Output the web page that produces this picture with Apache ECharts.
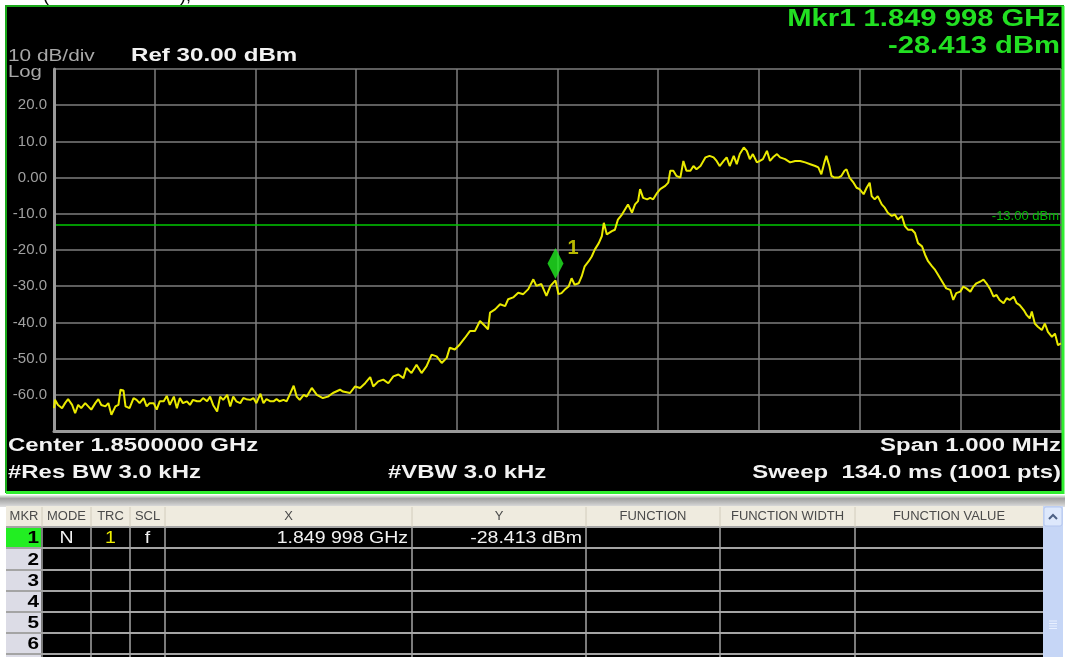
<!DOCTYPE html>
<html><head><meta charset="utf-8">
<script src="https://cdn.jsdelivr.net/npm/echarts@6/dist/echarts.min.js"></script>
<style>html,body{margin:0;padding:0;background:#fff;}#chart{width:1065px;height:657px;}</style>
</head><body><div id="chart"></div>
<script>
// ---- data (trace point index 0..1000 across 1.8495–1.8505 GHz, level in dBm) ----
const traceIdx = [
  0,1,4,8,11,14,18,21,24,27,31,34,37,41,44,47,51,54,57,61,64,66,69,71,75,79,82,85,89,92,95,99,102,105,109,112,115,119,122,125,128,132,135,138,142,145,148,152,155,158,162,165,168,172,175,178,181,185,188,191,195,198,201,205,208,211,215,218,221,224,228,231,234,238,241,244,248,
  251,256,261,267,272,277,284,287,294,299,304,309,314,317,322,327,332,337,342,347,350,355,360,365,370,375,380,385,390,393,398,403,408,413,418,423,428,431,433,438,443,448,451,456,461,466,471,476,479,484,489,493,498,501,
  504,507,511,514,517,521,524,527,531,534,537,541,544,546,549,554,557,560,564,567,570,574,577,580,582,585,589,592,595,599,602,607,610,612,615,618,622,625,628,632,635,638,642,647,651,655,658,661,665,668,671,675,678,681,685,688,691,694,698,701,704,708,711,714,718,721,726,731,736,
  741,746,751,756,759,762,765,767,770,772,775,779,782,785,787,790,794,797,800,804,807,810,812,815,818,822,825,828,832,835,838,842,845,848,852,855,858,862,865,868,872,875,877,880,883,886,890,893,896,900,903,906,910,913,916,920,923,926,930,933,936,939,943,946,949,953,956,959,963,966,969,971,974,977,981,984,987,991,994,997,1000
];
const traceDbm = [
  -63.7,-61.4,-62.8,-63.7,-62.3,-61.2,-62.8,-65.1,-62.8,-63.7,-62.3,-63.2,-64.1,-62.3,-61.2,-62.8,-63.2,-62.3,-65.5,-63.2,-62.8,-58.6,-58.8,-63.2,-63.7,-60.9,-61.4,-62.3,-60.9,-63.2,-62.3,-62.3,-64.1,-61.8,-61.8,-60.3,-62.8,-60.5,-63.7,-60.9,-62.3,-61.8,-62.8,-61.4,-61.8,-61.8,-60.9,-61.8,-60.5,-62.8,-64.6,-60.5,-61.4,-60.0,-63.2,-60.5,-61.8,-62.3,-60.9,-61.2,-61.4,-60.9,-62.3,-59.7,-62.3,-61.2,-61.8,-61.8,-61.2,-61.8,-61.4,-61.8,-60.0,-57.5,-60.5,-61.4,-60.0,
  -60.5,-58.1,-60.0,-60.9,-60.5,-59.5,-58.6,-59.1,-59.5,-57.7,-58.1,-56.8,-55.1,-57.7,-56.3,-55.8,-56.8,-54.9,-54.4,-55.4,-52.6,-54.0,-51.7,-54.0,-52.1,-48.9,-49.4,-51.2,-49.8,-47.0,-47.5,-46.1,-44.3,-42.4,-42.4,-39.6,-41.0,-41.9,-37.3,-36.4,-35.0,-35.5,-33.6,-33.1,-31.8,-32.2,-30.8,-28.1,-29.9,-29.4,-32.7,-29.9,-28.4,-32.2,
  -31.9,-31.0,-30.1,-27.8,-29.6,-29.2,-27.3,-24.5,-23.1,-21.8,-19.9,-18.1,-16.2,-12.5,-15.7,-14.8,-14.4,-11.6,-10.2,-8.8,-7.4,-9.7,-7.4,-6.5,-3.2,-5.6,-6.0,-5.6,-6.0,-4.2,-3.2,-2.3,-1.4,1.9,1.9,0.5,0.0,4.6,1.9,1.9,3.2,2.3,3.2,5.6,6.0,5.6,4.6,3.2,4.6,5.6,3.2,6.0,3.7,6.5,8.3,7.4,5.1,6.5,4.2,4.6,5.1,7.4,4.6,5.6,6.5,5.6,5.1,4.2,4.6,
  4.6,4.2,3.7,3.2,2.8,0.9,4.2,6.0,3.2,0.5,0.0,0.0,0.5,1.9,2.3,0.0,-1.4,-2.8,-3.2,-4.6,-2.8,-1.4,-5.1,-6.0,-5.1,-7.4,-8.3,-9.7,-10.6,-10.2,-11.6,-10.6,-13.4,-14.4,-14.4,-15.3,-18.1,-19.0,-21.3,-23.1,-24.5,-25.5,-26.4,-27.8,-29.2,-30.6,-31.0,-33.8,-31.9,-31.5,-30.1,-30.6,-31.5,-30.1,-29.2,-28.7,-28.2,-29.2,-31.0,-32.9,-32.4,-33.8,-34.7,-33.3,-33.8,-32.9,-34.7,-35.2,-36.6,-38.0,-38.9,-37.0,-40.3,-41.2,-42.1,-40.3,-42.6,-44.0,-43.1,-46.3,-45.8
];
const markerIdx = 498;          // 1.849 998 GHz
const markerDbm = -28.413;
const limitDbm = -13;
const limitLabel = '-13.00 dBm';
const yTickValues = [20, 10, 0, -10, -20, -30, -40, -50, -60];
const yTickLabels = ['20.0', '10.0', '0.00', '-10.0', '-20.0', '-30.0', '-40.0', '-50.0', '-60.0'];
const scaleText = ['10 dB/div', 'Log'];
const refText = 'Ref 30.00 dBm';
const mkrReadout = ['Mkr1 1.849 998 GHz', '-28.413 dBm'];
const footerLeft = ['Center 1.8500000 GHz', '#Res BW 3.0 kHz'];
const footerMid = '#VBW 3.0 kHz';
const footerRight = ['Span 1.000 MHz', 'Sweep  134.0 ms (1001 pts)'];
const tableColumns = ['MKR', 'MODE', 'TRC', 'SCL', 'X', 'Y', 'FUNCTION', 'FUNCTION WIDTH', 'FUNCTION VALUE'];
const tableRows = [
  ['1', 'N', '1', 'f', '1.849 998 GHz', '-28.413 dBm', '', '', ''],
  ['2', '', '', '', '', '', '', '', ''],
  ['3', '', '', '', '', '', '', '', ''],
  ['4', '', '', '', '', '', '', '', ''],
  ['5', '', '', '', '', '', '', '', ''],
  ['6', '', '', '', '', '', '', '', '']
];

// ---- layout ----
const SX = 1.27;
const FSX = 1.33;
const FF = '"Liberation Sans", Arial, sans-serif';
const colEdges = [6, 42, 91, 130, 165, 412, 586, 720, 855, 1043];
const rowEdges = [527, 548, 570, 591, 612, 633, 654];

function txt(text, x, y, font, fill, align, sx, z) {
  return { type: 'text', x: x, y: y, scaleX: sx == null ? SX : sx, z: z || 30,
    style: { text: text, font: font, fill: fill, textAlign: align || 'left', textVerticalAlign: 'middle' } };
}
const G = [];
// page header fragment
G.push({ type: 'text', x: 43, y: 5, z: 30, style: { text: '(', font: '18px ' + FF, fill: '#000', textVerticalAlign: 'bottom' } });
G.push({ type: 'text', x: 180, y: 5, z: 30, style: { text: '),', font: '18px ' + FF, fill: '#000', textVerticalAlign: 'bottom' } });
// instrument panel
G.push({ type: 'rect', z: -10, shape: { x: 6, y: 6, width: 1057, height: 486 }, style: { fill: '#000', stroke: '#1aa81a', lineWidth: 2 } });
G.push({ type: 'line', z: 40, shape: { x1: 1063, y1: 6, x2: 1063, y2: 494 }, style: { stroke: '#30ee30', lineWidth: 3 } });
G.push({ type: 'line', z: 40, shape: { x1: 6, y1: 492.5, x2: 1064, y2: 492.5 }, style: { stroke: '#30ee30', lineWidth: 3 } });
G.push(txt(scaleText[0], 8, 57, '16px ' + FF, '#a8a8a8', 'left', 1.3));
G.push(txt(scaleText[1], 8, 73, '16px ' + FF, '#a8a8a8'));
G.push(txt(refText, 131, 56, 'bold 19px ' + FF, '#f2f2f2'));
G.push(txt(mkrReadout[0], 1060, 20, 'bold 23px ' + FF, '#22e022', 'right'));
G.push(txt(mkrReadout[1], 1060, 47, 'bold 23px ' + FF, '#22e022', 'right'));
G.push(txt(footerLeft[0], 8, 446, 'bold 18px ' + FF, '#f2f2f2', 'left', FSX));
G.push(txt(footerLeft[1], 8, 473, 'bold 18px ' + FF, '#f2f2f2', 'left', FSX));
G.push(txt(footerMid, 388, 473, 'bold 18px ' + FF, '#f2f2f2', 'left', FSX));
G.push(txt(footerRight[0], 1061, 446, 'bold 18px ' + FF, '#f2f2f2', 'right', FSX));
G.push(txt(footerRight[1], 1061, 473, 'bold 18px ' + FF, '#f2f2f2', 'right', FSX));
// table band
G.push({ type: 'rect', z: -10, shape: { x: 0, y: 495, width: 1065, height: 12 },
  style: { fill: new echarts.graphic.LinearGradient(0, 0, 0, 1, [
    { offset: 0, color: '#eef8ee' }, { offset: 0.3, color: '#a0a0a0' }, { offset: 0.75, color: '#c8c8c8' }, { offset: 1, color: '#e0e0e0' }]) } });
G.push({ type: 'rect', z: -10, shape: { x: 6, y: 506, width: 1037, height: 21 }, style: { fill: '#efebdf' } });
G.push({ type: 'rect', z: -10, shape: { x: 6, y: 527, width: 1037, height: 130 }, style: { fill: '#000' } });
for (let r = 0; r < tableRows.length; r++) {
  G.push({ type: 'rect', z: -9, shape: { x: 6, y: rowEdges[r] + 1, width: 35, height: rowEdges[r + 1] - rowEdges[r] - 1 },
    style: { fill: r === 0 ? '#22ee22' : '#dcdce6' } });
}
G.push({ type: 'rect', z: -9, shape: { x: 6, y: 655, width: 35, height: 2 }, style: { fill: '#dcdce6' } });
for (const y of rowEdges) G.push({ type: 'line', z: -8, shape: { x1: 6, y1: y, x2: 1043, y2: y }, style: { stroke: '#a4a4a4', lineWidth: 2 } });
for (let c = 1; c < colEdges.length - 1; c++) {
  G.push({ type: 'line', z: -8, shape: { x1: colEdges[c], y1: 527, x2: colEdges[c], y2: 657 }, style: { stroke: '#a4a4a4', lineWidth: 1.5 } });
  G.push({ type: 'line', z: -8, shape: { x1: colEdges[c], y1: 507, x2: colEdges[c], y2: 527 }, style: { stroke: '#d2ccbc', lineWidth: 1 } });
}
for (let c = 0; c < tableColumns.length; c++) {
  const cx = (colEdges[c] + colEdges[c + 1]) / 2;
  G.push(txt(tableColumns[c], cx, 517, '12px ' + FF, '#4a4a4a', 'center', 1.08));
}
const colAlign = ['right', 'center', 'center', 'center', 'right', 'right', 'right', 'right', 'right'];
for (let r = 0; r < tableRows.length; r++) {
  const cy = (rowEdges[r] + rowEdges[r + 1]) / 2 + 1;
  for (let c = 0; c < tableRows[r].length; c++) {
    const v = tableRows[r][c];
    if (!v) continue;
    let x = colAlign[c] === 'center' ? (colEdges[c] + colEdges[c + 1]) / 2 : colEdges[c + 1] - 4;
    let font = '16px ' + FF, fill = '#f2f2f2';
    if (c === 0) { font = 'bold 17px ' + FF; fill = '#000'; x = colEdges[1] - 3; }
    if (c === 2) fill = '#f0f000';
    G.push(txt(v, x, cy, font, fill, colAlign[c], 1.22));
  }
}
// scrollbar
G.push({ type: 'rect', z: -9, shape: { x: 1043, y: 506, width: 20, height: 151 }, style: { fill: '#c6d6f6' } });
G.push({ type: 'rect', z: -8, shape: { x: 1044, y: 507, width: 18, height: 19, r: 2 }, style: { fill: '#dde8fc', stroke: '#b4c6ee', lineWidth: 1 } });
G.push({ type: 'polyline', z: -7, shape: { points: [[1049, 519], [1053, 515], [1057, 519]] }, style: { stroke: '#4d6185', lineWidth: 2, fill: 'none' } });
for (let k = 0; k < 4; k++) G.push({ type: 'line', z: -7, shape: { x1: 1049, y1: 621 + k * 2.5, x2: 1057, y2: 621 + k * 2.5 }, style: { stroke: '#e8f0ff', lineWidth: 1 } });

const traceData = traceIdx.map((x, i) => [x, traceDbm[i]]);

const chart = echarts.init(document.getElementById('chart'), null, { renderer: 'canvas' });
chart.setOption({
  animation: false,
  backgroundColor: 'transparent',
  grid: { left: 54, right: 4, top: 69, bottom: 226, containLabel: false },
  xAxis: {
    type: 'value', min: 0, max: 1000, interval: 100, z: 5,
    axisLabel: { show: false }, axisTick: { show: false },
    axisLine: { show: true, onZero: false, lineStyle: { color: '#9a9a9a', width: 3 } },
    splitLine: { show: true, lineStyle: { color: '#7e7e7e', width: 1.5 } }
  },
  yAxis: {
    type: 'value', min: -70, max: 30, interval: 10, z: 5,
    axisTick: { show: false },
    axisLine: { show: true, onZero: false, lineStyle: { color: '#9a9a9a', width: 3 } },
    splitLine: { show: true, lineStyle: { color: '#7e7e7e', width: 1.5 } },
    axisLabel: {
      margin: 7, color: '#a0a0a0', fontSize: 15, fontFamily: 'Liberation Sans',
      formatter: v => { const i = yTickValues.indexOf(v); return i >= 0 ? yTickLabels[i] : ''; }
    }
  },
  graphic: { elements: G },
  series: [
    {
      type: 'line', z: 10, data: traceData, showSymbol: false, symbol: 'none',
      lineStyle: { color: '#eaea00', width: 2 },
      markLine: {
        silent: true, symbol: 'none', animation: false,
        lineStyle: { color: '#00c800', width: 1.5, type: 'solid' },
        label: { show: true, position: 'insideEndTop', formatter: limitLabel, color: '#00b800', fontSize: 13, distance: 2 },
        data: [{ yAxis: limitDbm }]
      }
    },
    {
      type: 'scatter', z: 12, data: [[markerIdx, markerDbm]],
      symbol: 'diamond', symbolSize: [16, 31], symbolOffset: [0, -17],
      itemStyle: { color: '#22ee22' },
      label: { show: true, formatter: '1', position: 'right', distance: 4, offset: [0, -15], color: '#e6e600', fontSize: 20, fontWeight: 'bold', fontFamily: 'Liberation Sans' }
    }
  ]
});
</script></body></html>
